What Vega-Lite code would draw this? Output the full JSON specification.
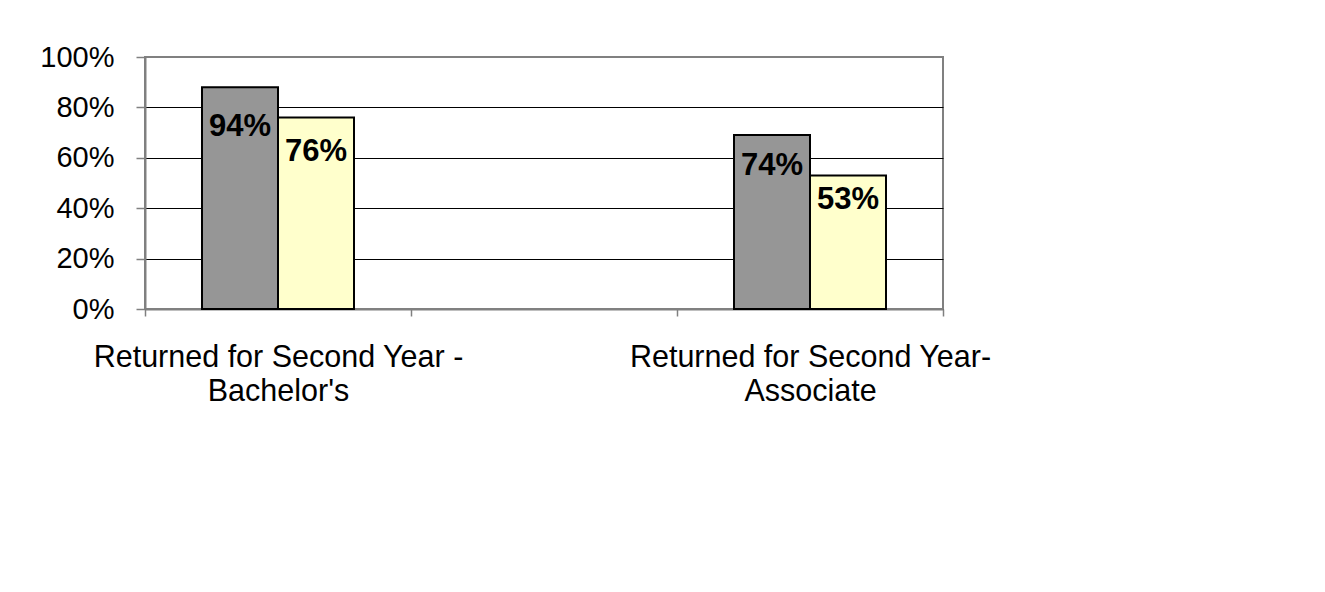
{
  "$schema": "https://vega.github.io/schema/vega-lite/v6.json",
  "width": 798,
  "height": 252,
  "autosize": "none",
  "padding": {"left": 145, "top": 57, "right": 382, "bottom": 283},
  "background": "white",
  "config": {
    "view": {"stroke": "#808080", "strokeWidth": 2},
    "font": "Liberation Sans"
  },
  "data": {
    "values": [
      {"category": "Returned for Second Year -|Bachelor's", "series": "A", "value": 0.88, "label": "94%"},
      {"category": "Returned for Second Year -|Bachelor's", "series": "B", "value": 0.76, "label": "76%"},
      {"category": "Returned for Second Year-|Associate", "series": "A", "value": 0.69, "label": "74%"},
      {"category": "Returned for Second Year-|Associate", "series": "B", "value": 0.53, "label": "53%"}
    ]
  },
  "encoding": {
    "x": {
      "field": "category",
      "type": "nominal",
      "sort": null,
      "scale": {
        "domain": ["Returned for Second Year -|Bachelor's", " ", "Returned for Second Year-|Associate"],
        "paddingInner": 0,
        "paddingOuter": 0
      },
      "axis": {
        "title": null,
        "labelAngle": 0,
        "labelExpr": "split(datum.label, '|')",
        "labelFontSize": 30.5,
        "labelLineHeight": 34,
        "labelColor": "black",
        "labelPadding": 26,
        "labelLimit": 600,
        "labelBaseline": "top",
        "tickBand": "extent",
        "tickSize": 7,
        "tickColor": "#808080",
        "tickWidth": 1.5,
        "domainColor": "#808080",
        "domainWidth": 2,
        "grid": false
      }
    },
    "xOffset": {
      "field": "series",
      "type": "nominal",
      "scale": {"paddingInner": 0, "paddingOuter": 0.75}
    }
  },
  "layer": [
    {
      "mark": {"type": "bar", "stroke": "black", "strokeWidth": 2},
      "encoding": {
        "y": {
          "field": "value",
          "type": "quantitative",
          "scale": {"domain": [0, 1], "nice": false},
          "axis": {
            "title": null,
            "values": [0, 0.2, 0.4, 0.6, 0.8, 1],
            "format": ".0%",
            "labelFontSize": 29,
            "labelColor": "black",
            "labelPadding": 22,
            "tickSize": 9,
            "tickColor": "#808080",
            "tickWidth": 1.5,
            "domainColor": "#808080",
            "domainWidth": 2,
            "grid": true,
            "gridColor": {"condition": {"test": "datum.value === 1", "value": "#808080"}, "value": "black"},
            "gridWidth": 1,
            "gridOpacity": 1
          }
        },
        "color": {
          "field": "series",
          "type": "nominal",
          "scale": {"domain": ["A", "B"], "range": ["#969696", "#FFFFCC"]},
          "legend": null
        }
      }
    },
    {
      "mark": {"type": "text", "fontWeight": "bold", "fontSize": 31, "baseline": "middle", "color": "black"},
      "encoding": {
        "y": {
          "field": "value",
          "type": "quantitative",
          "scale": {"domain": [0, 1.22], "nice": false},
          "axis": null
        },
        "text": {"field": "label"}
      }
    }
  ],
  "resolve": {"scale": {"y": "independent"}}
}
